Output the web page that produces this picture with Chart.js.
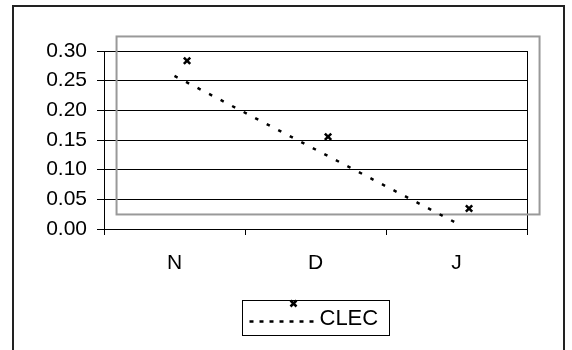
<!DOCTYPE html>
<html>
<head>
<meta charset="utf-8">
<script src="https://cdn.jsdelivr.net/npm/chart.js@4/dist/chart.umd.min.js"></script>
<style>
  html, body { margin: 0; padding: 0; background: #fff; }
</style>
</head>
<body>
<canvas id="chart" width="572" height="350"></canvas>
<script>
// data
const categories = ["N", "D", "J"];
const clecValues = [0.259, 0.131, 0.010];
const trendValues = [0.258, 0.134, 0.010];
const yTickValues = [0, 0.05, 0.1, 0.15, 0.2, 0.25, 0.3];
const seriesName = "CLEC";

// the markers and the grey box sit on a second plot area, nudged right/up
const SHIFT_X = 0.089;
const SHIFT_Y = 0.0245;
const FONT = { family: "'Liberation Sans', Arial, sans-serif", size: 21 };

const background = {
  id: "background",
  beforeDraw(chart) {
    const ctx = chart.ctx;
    ctx.save();
    ctx.fillStyle = "#fff";
    ctx.fillRect(0, 0, chart.width, chart.height);
    ctx.restore();
  },
  afterDraw(chart) {
    const ctx = chart.ctx;
    ctx.save();
    ctx.strokeStyle = "#222";
    ctx.lineWidth = 2;
    ctx.strokeRect(13, 6, 551, 360);
    ctx.restore();
  },
};

const plotFrames = {
  id: "plotFrames",
  beforeDatasetsDraw(chart) {
    const { ctx, chartArea, scales } = chart;
    ctx.save();
    // right edge of the main plot area
    ctx.strokeStyle = "#000";
    ctx.lineWidth = 1;
    ctx.beginPath();
    ctx.moveTo(Math.round(chartArea.right) + 0.5, chartArea.top);
    ctx.lineTo(Math.round(chartArea.right) + 0.5, chartArea.bottom);
    ctx.stroke();
    // grey secondary plot area
    const x0 = scales.x2.getPixelForValue(0.5);
    const x1 = scales.x2.getPixelForValue(categories.length + 0.5);
    const y0 = scales.y2.getPixelForValue(yTickValues[yTickValues.length - 1]);
    const y1 = scales.y2.getPixelForValue(0);
    ctx.strokeStyle = "#999";
    ctx.lineWidth = 2;
    ctx.strokeRect(x0, y0, x1 - x0, y1 - y0);
    ctx.restore();
  },
};

const legendBox = {
  id: "legendBox",
  afterDraw(chart) {
    const { ctx, chartArea } = chart;
    const cx = (chartArea.left + chartArea.right) / 2;
    const left = Math.round(cx - 73.5) + 0.5;
    const top = 300.5;
    ctx.save();
    ctx.strokeStyle = "#000";
    ctx.lineWidth = 1;
    ctx.strokeRect(left, top, 147, 35);
    // dotted line sample
    ctx.lineWidth = 2.5;
    ctx.setLineDash([4, 6]);
    ctx.beginPath();
    ctx.moveTo(left + 7, 321.5);
    ctx.lineTo(left + 73, 321.5);
    ctx.stroke();
    ctx.setLineDash([]);
    // marker sample (offset like the plotted markers)
    const mx = left + 51, my = 303.5, r = 3;
    ctx.beginPath();
    ctx.moveTo(mx - r, my - r); ctx.lineTo(mx + r, my + r);
    ctx.moveTo(mx + r, my - r); ctx.lineTo(mx - r, my + r);
    ctx.stroke();
    ctx.fillStyle = "#000";
    ctx.font = `22px ${FONT.family}`;
    ctx.textBaseline = "middle";
    ctx.fillText(seriesName, left + 77, 319);
    ctx.restore();
  },
};

new Chart(document.getElementById("chart"), {
  type: "line",
  data: {
    labels: categories,
    datasets: [
      {
        label: seriesName + " trend",
        data: trendValues,
        xAxisID: "x",
        yAxisID: "y",
        borderColor: "#000",
        borderWidth: 2.5,
        borderDash: [3.5, 9.5],
        pointRadius: 0,
        tension: 0,
        fill: false,
      },
      {
        label: seriesName,
        data: clecValues.map((v, i) => ({ x: i + 1, y: v })),
        xAxisID: "x2",
        yAxisID: "y2",
        showLine: false,
        pointStyle: "crossRot",
        pointRadius: 4.5,
        pointBorderWidth: 2.5,
        borderColor: "#000",
        backgroundColor: "#000",
      },
    ],
  },
  options: {
    responsive: false,
    animation: false,
    devicePixelRatio: 1,
    layout: { padding: { left: 12, top: 51, right: 45, bottom: 0 } },
    plugins: {
      legend: { display: false },
      tooltip: { enabled: false },
    },
    scales: {
      x: {
        type: "category",
        offset: true,
        grid: {
          offset: true,
          drawOnChartArea: false,
          drawTicks: true,
          tickLength: 6,
          color: "#000",
        },
        border: { color: "#000" },
        ticks: { font: FONT, color: "#000", padding: 16, maxRotation: 0 },
        afterFit(s) { s.height = 121; },
      },
      y: {
        min: 0,
        max: 0.3,
        grid: { color: "#000", tickLength: 7 },
        border: { color: "#000" },
        ticks: {
          font: FONT,
          color: "#000",
          padding: 10,
          callback: (v) => Number(v).toFixed(2),
        },
        afterBuildTicks(s) { s.ticks = yTickValues.map((v) => ({ value: v })); },
        afterFit(s) { s.width = 92; },
      },
      x2: {
        type: "linear",
        display: false,
        min: 0.5 - SHIFT_X,
        max: categories.length + 0.5 - SHIFT_X,
      },
      y2: {
        type: "linear",
        display: false,
        min: -SHIFT_Y,
        max: 0.3 - SHIFT_Y,
      },
    },
  },
  plugins: [background, plotFrames, legendBox],
});
</script>
</body>
</html>
